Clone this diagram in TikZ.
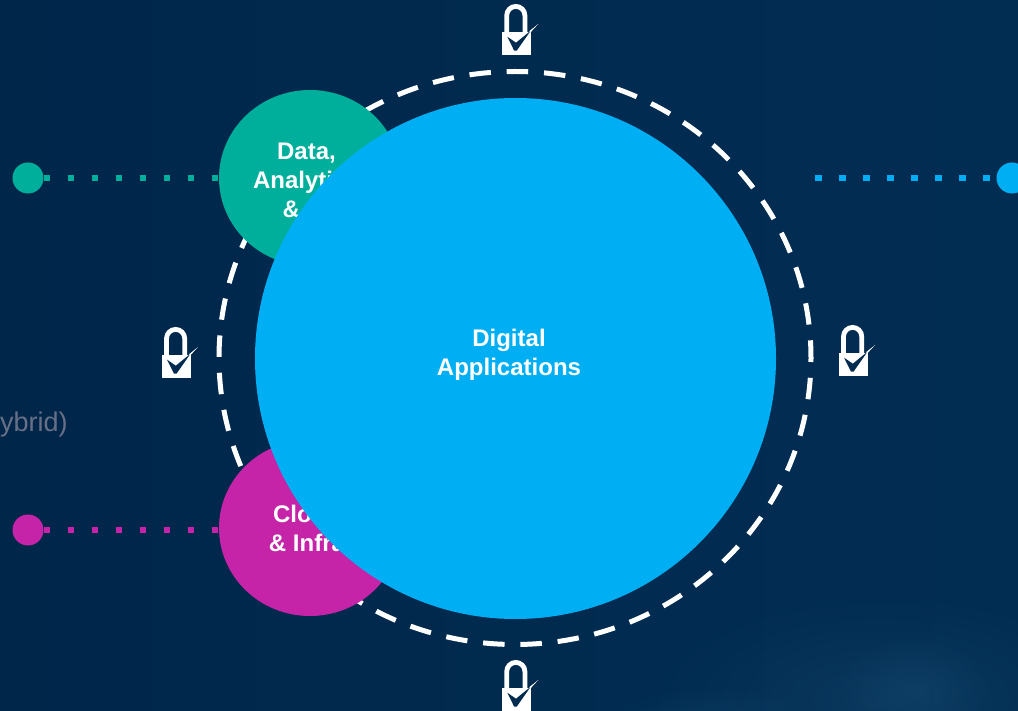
\documentclass[tikz,border=0pt]{standalone}
\usepackage{fontspec}
\setmainfont{Liberation Sans}
\usetikzlibrary{shapes.geometric,fadings}
\definecolor{navy}{RGB}{1,42,79}
\definecolor{navyb}{RGB}{0,38,74}
\definecolor{navyc}{RGB}{2,45,82}
\definecolor{glow}{RGB}{40,100,140}
\definecolor{tealc}{RGB}{0,175,155}
\definecolor{magc}{RGB}{198,36,168}
\definecolor{bluec}{RGB}{0,175,243}
\definecolor{grayt}{RGB}{104,112,136}
\tikzfading[name=glowfade,inner color=transparent!60,outer color=transparent!100]
\tikzfading[name=softfade,inner color=transparent!80,outer color=transparent!100]
\tikzset{
  x=1pt,y=-1pt,
  blob/.style={ellipse,minimum width=182pt,minimum height=176pt,inner sep=0pt,fill=#1},
  endcap/.style={circle,minimum size=31pt,inner sep=0pt,fill=#1},
  squares/.style={draw=#1,line width=6.5pt,dash pattern=on 6.5pt off 17.5pt},
  lab/.style={text=white,font=\fontsize{24}{29}\selectfont\bfseries,align=center,inner sep=0pt},
  ringline/.style={draw=white,line width=5pt,dash pattern=on 21.5pt off 15.85pt,dash phase=17.5pt},
  lock/.pic={
    \fill[white] (0,28.3) rectangle (29.3,51);
    \draw[white,line width=4.8pt] (5,29) -- (5,11.5) arc[start angle=180,end angle=360,x radius=9.1,y radius=9.1] -- (23.2,29);
    \fill[navy] (5.6,32.7) -- (14.3,38.7) -- (29,26.7) -- (15,46.7) -- (12.5,46.7) -- cycle;
    \fill[white] (27.6,27.2) -- (36.6,20) -- (28.6,28.6) -- cycle;
  }
}
\begin{document}
\begin{tikzpicture}
\useasboundingbox (0,0) rectangle (1018,711);
\shade[left color=navyb,right color=navyc,middle color=navy] (0,0) rectangle (1018,711);
\begin{scope}
\clip (0,0) rectangle (1018,711);
\fill[glow,path fading=softfade] (880,700) ellipse [x radius=240pt,y radius=110pt];
\fill[glow,path fading=softfade] (915,690) ellipse [x radius=80pt,y radius=55pt];
\fill[glow,path fading=softfade] (710,730) ellipse [x radius=120pt,y radius=45pt];
\end{scope}
\node[anchor=west,text=grayt,font=\fontsize{27}{32}\selectfont,inner sep=0pt] (hy) at (0,425) {ybrid)};

\draw[ringline] (811,358) arc[start angle=0,end angle=360,x radius=296,y radius=286.5];

\node[blob=tealc] (dac) at (310,178) {};
\node[blob=magc] (cic) at (310,528) {};
\node[endcap=tealc] (dad) at (28,178) {};
\node[endcap=magc] (cid) at (28,530) {};
\node[endcap=bluec] (bld) at (1012,178) {};
\coordinate (blfree) at (815,178);
\draw[squares=tealc] (dad.east) -- (dad.east -| dac.west);
\draw[squares=magc] (cid.east) -- (cid.east -| cic.west);
\draw[squares=bluec] (blfree) -- (bld.west);

\node[lab] (dal) at (306.5,180.5) {Data,\\Analytics\\\& AI};
\node[lab] (cil) at (307,528) {Cloud\\\& Infra};
\node[circle,fill=bluec,minimum size=521pt,inner sep=0pt] (app) at (515.5,358.5) {};
\node[lab] (appl) at (509,354.5) {Digital\\Applications};

\pic at (501.7,4) {lock};
\pic at (161.5,327) {lock};
\pic at (838.5,325) {lock};
\pic at (501.7,660) {lock};
\end{tikzpicture}
\end{document}
